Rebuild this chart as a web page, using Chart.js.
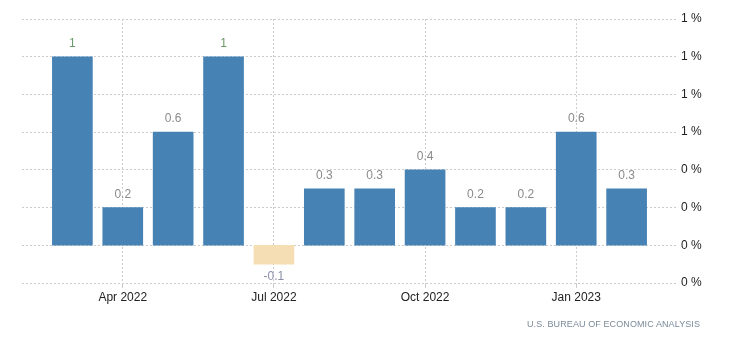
<!DOCTYPE html>
<html lang="en">
<head>
    <meta charset="UTF-8">
    <title>Monthly change</title>
    <script src="https://cdn.jsdelivr.net/npm/chart.js"></script>
    <style>
        body { margin: 0; background: #fff; font-family: "Liberation Sans", Arial, sans-serif; }
        #wrap { position: relative; width: 751px; height: 349px; }
        #source {
            position: absolute; left: 527px; top: 319px;
            font-size: 9px; letter-spacing: 0.1px; color: #7a8a99;
        }
    </style>
</head>
<body>
<div id="wrap">
    <canvas id="barChart" width="751" height="349"></canvas>
    <div id="source">U.S. BUREAU OF ECONOMIC ANALYSIS</div>
</div>
<script>
    // padded with an empty month on both ends so the axis runs edge to edge
    const months = ['Feb 2022', 'Mar 2022', 'Apr 2022', 'May 2022', 'Jun 2022', 'Jul 2022', 'Aug 2022',
        'Sep 2022', 'Oct 2022', 'Nov 2022', 'Dec 2022', 'Jan 2023', 'Feb 2023', 'Mar 2023'];
    const values = [null, 1, 0.2, 0.6, 1, -0.1, 0.3, 0.3, 0.4, 0.2, 0.2, 0.6, 0.3, null];
    const shownMonths = ['Apr 2022', 'Jul 2022', 'Oct 2022', 'Jan 2023'];

    const valueLabels = {
        id: 'valueLabels',
        afterDatasetsDraw(chart) {
            const ctx = chart.ctx;
            const meta = chart.getDatasetMeta(0);
            ctx.save();
            ctx.font = '12px "Liberation Sans", Arial, sans-serif';
            ctx.textAlign = 'center';
            ctx.textBaseline = 'middle';
            meta.data.forEach((bar, i) => {
                const v = values[i];
                if (v === null) return;
                ctx.fillStyle = v < 0 ? '#8a8fa8' : (v >= 1 ? '#6a9a6a' : '#8a8a8a');
                const y = v < 0 ? bar.y + 13 : bar.y - 13;
                ctx.fillText(String(v), bar.x, y);
            });
            ctx.restore();
        }
    };

    new Chart(document.getElementById('barChart'), {
        type: 'bar',
        data: {
            labels: months,
            datasets: [{
                data: values,
                backgroundColor: values.map(v => v < 0 ? '#f5deb3' : '#4682b4'),
                barThickness: 40
            }]
        },
        options: {
            responsive: false,
            animation: false,
            layout: { padding: { left: 22, top: 19, right: 0, bottom: 0 } },
            plugins: { legend: { display: false }, tooltip: { enabled: false } },
            scales: {
                x: {
                    offset: false,
                    grid: {
                        offset: false,
                        color: c => shownMonths.includes(months[c.index]) ? '#cccccc' : 'rgba(0,0,0,0)',
                        tickLength: 5
                    },
                    border: { display: false, dash: [2, 2] },
                    ticks: {
                        autoSkip: false,
                        maxRotation: 0,
                        padding: 2,
                        color: '#222',
                        font: { family: '"Liberation Sans", Arial, sans-serif', size: 12 },
                        callback: (v, i) => shownMonths.includes(months[i]) ? months[i] : ''
                    },
                    afterFit: s => { s.height = 66; }
                },
                y: {
                    position: 'right',
                    min: -0.2,
                    max: 1.2,
                    grid: { color: '#cccccc', drawTicks: false },
                    border: { display: false, dash: [2, 2] },
                    ticks: {
                        stepSize: 0.2,
                        padding: 4,
                        color: '#222',
                        font: { family: '"Liberation Sans", Arial, sans-serif', size: 12 },
                        callback: v => Math.abs(Math.round(v)) + ' %'
                    },
                    afterFit: s => { s.width = 74; }
                }
            }
        },
        plugins: [valueLabels]
    });
</script>
</body>
</html>
